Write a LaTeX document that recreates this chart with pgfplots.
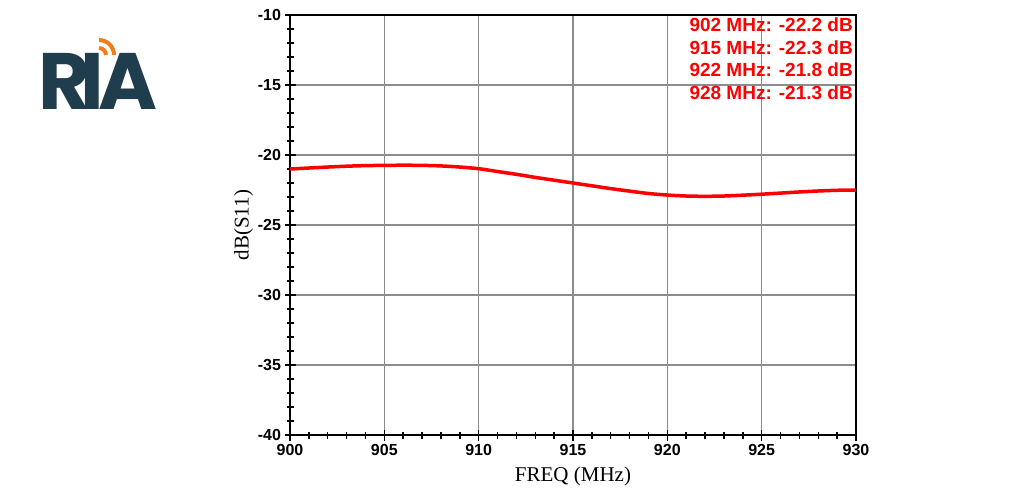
\documentclass[border=0pt]{standalone}
\usepackage{fontspec}
\setmainfont{Liberation Sans}
\newfontfamily\seriffont{Liberation Serif}
\newfontfamily\logofont{Poppins}
\usepackage{pgfplots}
\pgfplotsset{compat=1.18}

\definecolor{logoblue}{HTML}{1F3D4C}
\definecolor{logoorange}{HTML}{F07D1A}

\begin{document}
\begin{tikzpicture}
\useasboundingbox (0pt,0pt) rectangle (1024pt,498pt);

% logo
\node[anchor=base west, inner sep=0pt, text=logoblue,
      font=\logofont\bfseries\fontsize{80}{80}\selectfont] at (38pt,388pt) {R\kern-10pt I\kern-6pt A};
\draw[logoorange, line width=4pt] (99pt,443pt) ++(0pt,7pt) arc (90:0:7pt);
\draw[logoorange, line width=4pt] (99pt,443pt) ++(0pt,15pt) arc (90:0:15pt);

\begin{axis}[
    at={(290pt,63pt)}, anchor=south west,
    scale only axis, width=566pt, height=420pt,
    xmin=900, xmax=930, ymin=-40, ymax=-10,
    xtick={900,905,...,930}, ytick={-40,-35,...,-10},
    minor x tick num=4, minor y tick num=4,
    xtick pos=left, ytick pos=left,
    grid=major,
    major grid style={black!45, line width=1.2pt},
    axis line style={black, line width=2.2pt},
    tick style={black, line width=1.5pt},
    major tick length=11pt, minor tick length=7pt,
    tick align=center,
    ticklabel style={font=\bfseries\fontsize{16}{16}\selectfont},
    /pgf/number format/assume math mode=true,
    /pgf/number format/set thousands separator={},
    xlabel={\seriffont FREQ (MHz)},
    ylabel={\seriffont dB(S11)},
    label style={font=\fontsize{21}{21}\selectfont},
    xlabel style={yshift=-5pt},
    ylabel style={yshift=-2pt},
]
\addplot[red, line width=3.5pt, smooth] coordinates {
 (900,-21.0) (901,-20.93) (902,-20.86) (903,-20.8) (904,-20.76)
 (905,-20.74) (906,-20.73) (907,-20.74) (908,-20.78) (909,-20.86)
 (910,-20.98) (911,-21.18) (912,-21.38) (913,-21.6) (914,-21.8)
 (915,-22.0) (916,-22.2) (917,-22.4) (918,-22.58) (919,-22.75)
 (920,-22.86) (921,-22.93) (922,-22.95) (923,-22.93) (924,-22.87)
 (925,-22.8) (926,-22.72) (927,-22.64) (928,-22.57) (929,-22.52)
 (930,-22.5)
};
\end{axis}

% marker readout
\node[anchor=north east, align=right, text=red, inner sep=0pt,
      font=\bfseries\fontsize{19}{22.5}\selectfont] at (853pt,480pt)
 {902 MHz: -22.2 dB\\915 MHz: -22.3 dB\\922 MHz: -21.8 dB\\928 MHz: -21.3 dB};
\end{tikzpicture}
\end{document}
